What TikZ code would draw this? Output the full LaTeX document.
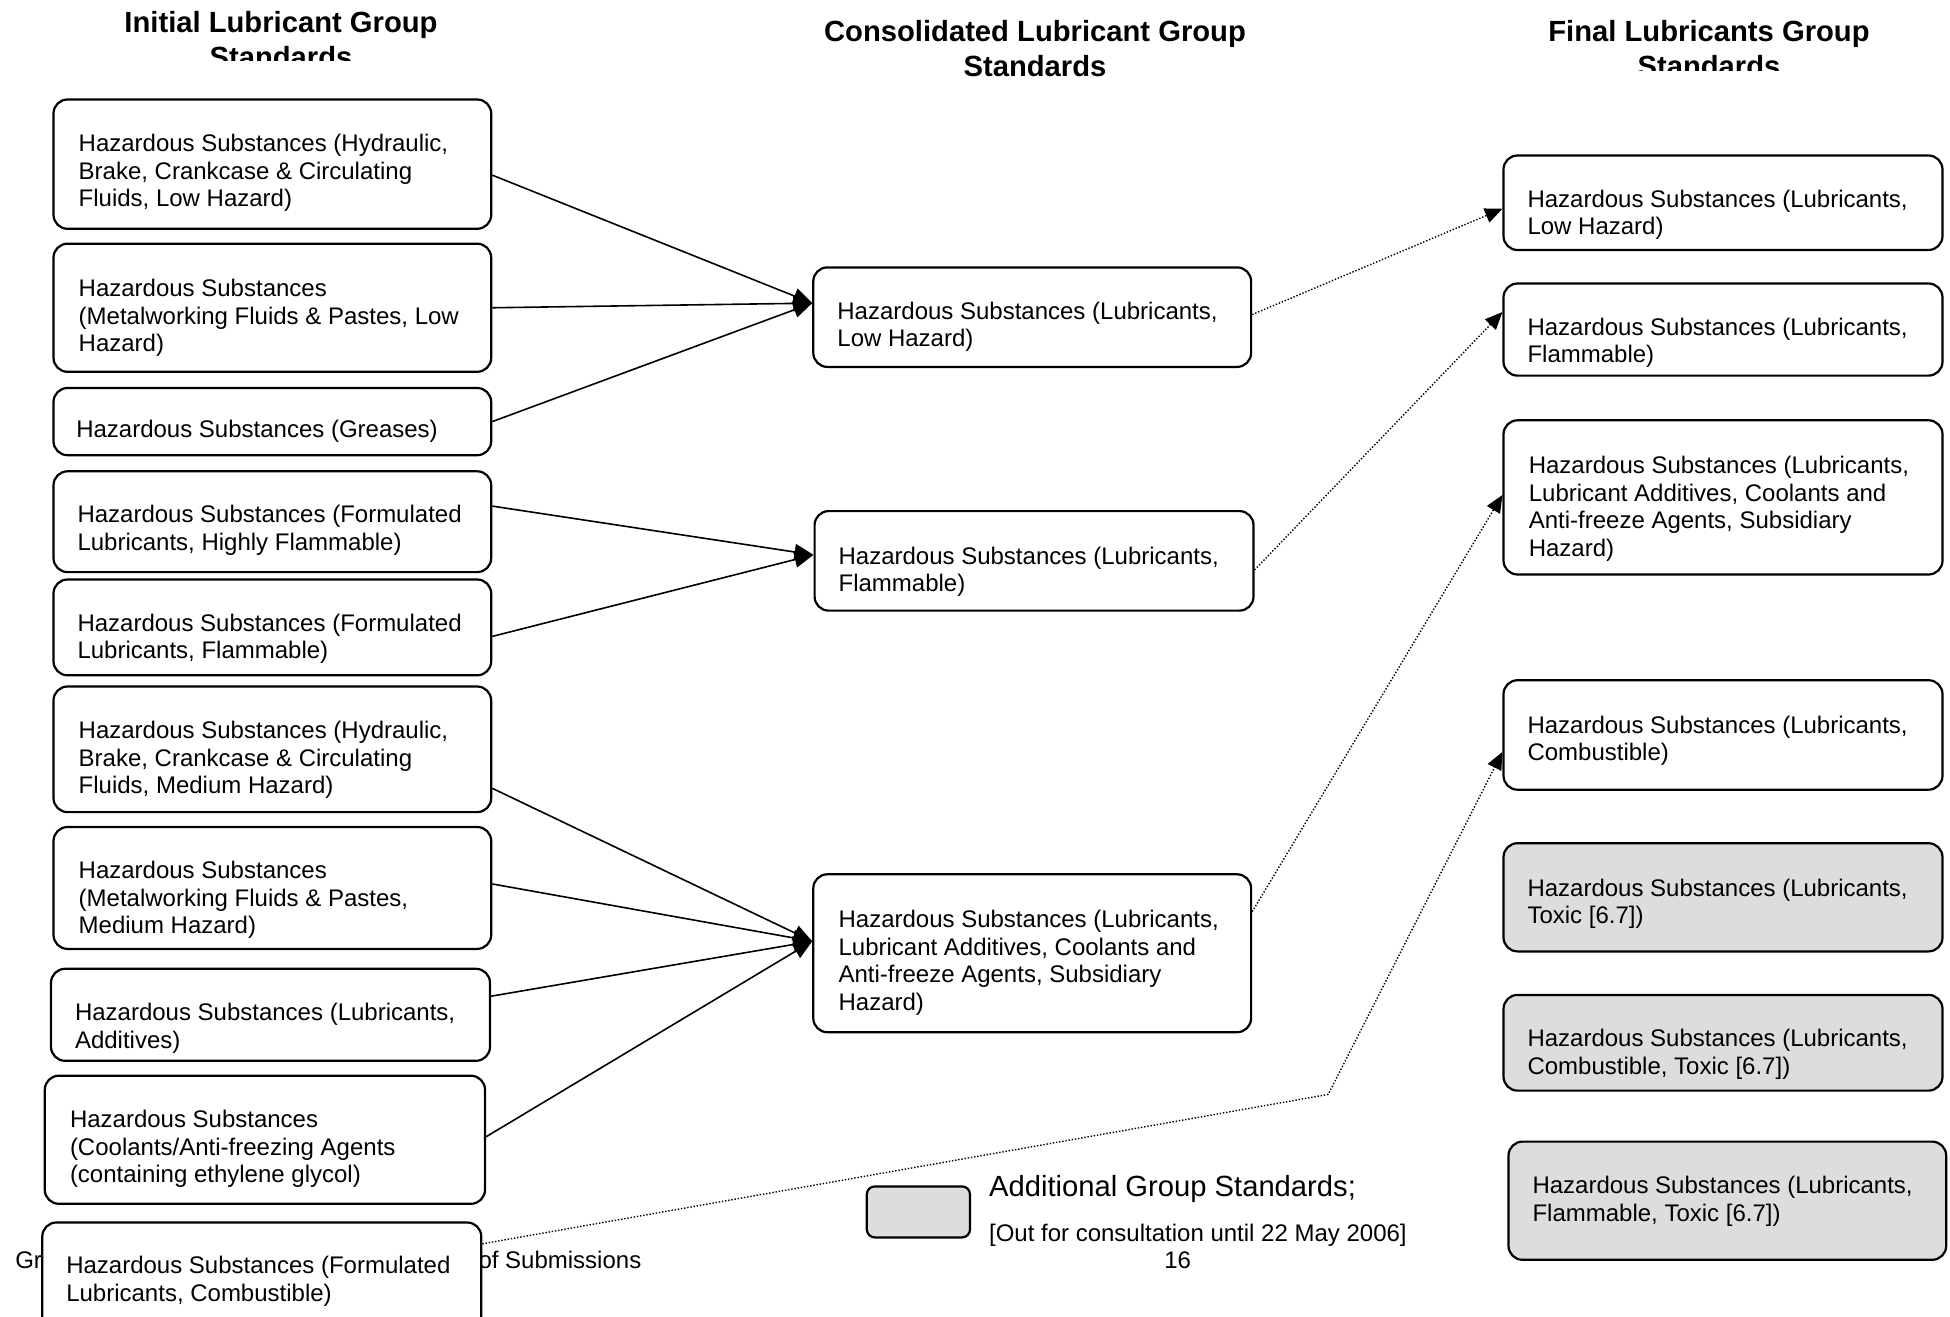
\documentclass[tikz,border=0pt]{standalone}
\usepackage{fontspec}
\setmainfont{Liberation Sans}
\usetikzlibrary{arrows.meta,calc}
\definecolor{addgrey}{RGB}{221,221,221}
\tikzset{
  stdbox/.style={draw=black, line width=1.1pt, rounded corners=7pt, fill=white, inner sep=0pt},
  addbox/.style={stdbox, fill=addgrey},
  bodytext/.style={inner sep=0pt, align=left, font=\fontsize{12}{13.8}\selectfont, anchor=west},
  titletext/.style={inner sep=0pt, font=\bfseries\fontsize{14.6}{17.4}\selectfont, anchor=base},
  feed/.style={line width=0.8pt, -{Triangle[length=9.5pt,width=8pt]}},
  carry/.style={line width=0.7pt, dash pattern=on 0.7pt off 0.9pt, -{Triangle[length=8.7pt,width=7.5pt]}},
}
\newcommand\mkbox[6]{\node[#6, minimum width={(#4-#2)*0.5pt}, minimum height={(#5-#3)*0.5pt}] (#1) at ({(#2+#4)/2},{(#3+#5)/2}) {};}
\begin{document}
\begin{tikzpicture}[x=0.5pt,y=-0.5pt]
\useasboundingbox (0,0) rectangle (1950,1317);
% titles
\begin{scope}
\clip (0,0) rectangle (700,60);
\node[titletext] (TI1) at (281,32.2) {Initial Lubricant Group};
\node[titletext] (TI2) at (281,67) {Standards};
\end{scope}
\node[titletext] (TC1) at (1035,41.6) {Consolidated Lubricant Group};
\node[titletext] (TC2) at (1035,76.4) {Standards};
\begin{scope}
\clip (1300,0) rectangle (1950,70);
\node[titletext] (TF1) at (1709,41.6) {Final Lubricants Group};
\node[titletext] (TF2) at (1709,76.4) {Standards};
\end{scope}
% footer
\node[bodytext] (ft1) at (14.9,1260) {Gr};
\node[bodytext, anchor=east] (ft2) at (641.7,1260) {of Submissions};
\node[bodytext, anchor=center] (pg) at (1177.7,1260) {16};
% boxes
\mkbox{L1}{53.5}{99.5}{491.2}{228.8}{stdbox}
\mkbox{L2}{53.5}{243.7}{491.2}{371.8}{stdbox}
\mkbox{L3}{53.5}{388.0}{491.2}{455.2}{stdbox}
\mkbox{L4}{53.5}{471.3}{491.2}{572.1}{stdbox}
\mkbox{L5}{53.5}{579.5}{491.2}{675.3}{stdbox}
\mkbox{L6}{53.5}{686.5}{491.2}{812.1}{stdbox}
\mkbox{L7}{53.5}{827.0}{491.2}{948.9}{stdbox}
\mkbox{L8}{51.0}{968.8}{490.0}{1060.8}{stdbox}
\mkbox{L9}{44.8}{1075.7}{485.0}{1203.8}{stdbox}
\mkbox{L10}{42.3}{1222.5}{481.3}{1340}{stdbox}
\mkbox{M1}{813.3}{267.4}{1251.1}{366.9}{stdbox}
\mkbox{M2}{814.6}{511.1}{1253.5}{610.6}{stdbox}
\mkbox{M3}{813.3}{874.3}{1251.1}{1032.2}{stdbox}
\mkbox{R1}{1503.5}{155.5}{1942.5}{250.0}{stdbox}
\mkbox{R2}{1503.5}{283.5}{1942.5}{375.6}{stdbox}
\mkbox{R3}{1503.5}{420.3}{1942.5}{574.5}{stdbox}
\mkbox{R4}{1503.5}{680.2}{1942.5}{789.7}{stdbox}
\mkbox{R5}{1503.5}{843.2}{1942.5}{951.4}{addbox}
\mkbox{R6}{1503.5}{994.9}{1942.5}{1090.6}{addbox}
\mkbox{R7}{1508.5}{1141.6}{1946.2}{1259.8}{addbox}
\mkbox{K}{866.8}{1186.4}{970.0}{1237.4}{addbox, rounded corners=4pt}
% texts
\node[bodytext] (L1t) at (78.3,173) {Hazardous Substances (Hydraulic,\\Brake, Crankcase \& Circulating\\Fluids, Low Hazard)};
\node[bodytext] (L2t) at (78.3,318) {Hazardous Substances\\(Metalworking Fluids \& Pastes, Low\\Hazard)};
\node[bodytext] (L3t) at (75.9,431) {Hazardous Substances (Greases)};
\node[bodytext] (L4t) at (77.1,530.5) {Hazardous Substances (Formulated\\Lubricants, Highly Flammable)};
\node[bodytext] (L5t) at (77.1,638.7) {Hazardous Substances (Formulated\\Lubricants, Flammable)};
\node[bodytext] (L6t) at (78.3,760) {Hazardous Substances (Hydraulic,\\Brake, Crankcase \& Circulating\\Fluids, Medium Hazard)};
\node[bodytext] (L7t) at (78.3,900) {Hazardous Substances\\(Metalworking Fluids \& Pastes,\\Medium Hazard)};
\node[bodytext] (L8t) at (74.6,1028) {Hazardous Substances (Lubricants,\\Additives)};
\node[bodytext] (L9t) at (69.6,1149) {Hazardous Substances\\(Coolants/Anti-freezing Agents\\(containing ethylene glycol)};
\node[bodytext] (L10t) at (65.9,1281) {Hazardous Substances (Formulated\\Lubricants, Combustible)};
\node[bodytext] (M1t) at (837,326.6) {Hazardous Substances (Lubricants,\\Low Hazard)};
\node[bodytext] (M2t) at (838.2,571.6) {Hazardous Substances (Lubricants,\\Flammable)};
\node[bodytext] (M3t) at (838.2,962.7) {Hazardous Substances (Lubricants,\\Lubricant Additives, Coolants and\\Anti-freeze Agents, Subsidiary\\Hazard)};
\node[bodytext] (R1t) at (1527.1,214.7) {Hazardous Substances (Lubricants,\\Low Hazard)};
\node[bodytext] (R2t) at (1527.1,342.7) {Hazardous Substances (Lubricants,\\Flammable)};
\node[bodytext] (R3t) at (1528.4,508.8) {Hazardous Substances (Lubricants,\\Lubricant Additives, Coolants and\\Anti-freeze Agents, Subsidiary\\Hazard)};
\node[bodytext] (R4t) at (1527.1,740.7) {Hazardous Substances (Lubricants,\\Combustible)};
\node[bodytext] (R5t) at (1527.1,903.6) {Hazardous Substances (Lubricants,\\Toxic [6.7])};
\node[bodytext] (R6t) at (1527.1,1054.1) {Hazardous Substances (Lubricants,\\Combustible, Toxic [6.7])};
\node[bodytext] (R7t) at (1532.1,1201.5) {Hazardous Substances (Lubricants,\\Flammable, Toxic [6.7])};
% legend
\node[bodytext, font=\fontsize{14.6}{17}\selectfont] (KT1) at (988.7,1189) {Additional Group Standards;};
\node[bodytext] (KT2) at (988.7,1235) {[Out for consultation until 22 May 2006]};
% connectors
\draw[feed] ([yshift=-5.5pt]L1.east) -- ([yshift=7pt]M1.west);
\draw[feed] (L2.east) -- ([yshift=7pt]M1.west);
\draw[feed] (L3.east) -- ([yshift=7pt]M1.west);
\draw[feed] ([yshift=7.8pt]L4.east) -- ([yshift=3pt]M2.west);
\draw[feed] ([yshift=-4.5pt]L5.east) -- ([yshift=3pt]M2.west);
\draw[feed] ([yshift=-19.5pt]L6.east) -- ([yshift=6pt]M3.west);
\draw[feed] ([yshift=2pt]L7.east) -- ([yshift=6pt]M3.west);
\draw[feed] ([yshift=9.3pt]L8.east) -- ([yshift=6pt]M3.west);
\draw[feed] ([yshift=1.5pt]L9.east) -- ([yshift=6pt]M3.west);
\draw[carry] ([yshift=1.3pt]M1.east) -- ([yshift=-3pt]R1.west);
\draw[carry] ([yshift=-4.5pt]M2.east) -- ([yshift=8.75pt]R2.west);
\draw[carry] ([yshift=20.8pt]M3.east) -- ([yshift=1.2pt]R3.west);
\coordinate (bend) at (1328.2,1094.4);
\draw[carry] ([yshift=-11.2pt]L10.north east) -- (bend) -- ([yshift=-8.5pt]R4.west);
\end{tikzpicture}
\end{document}
